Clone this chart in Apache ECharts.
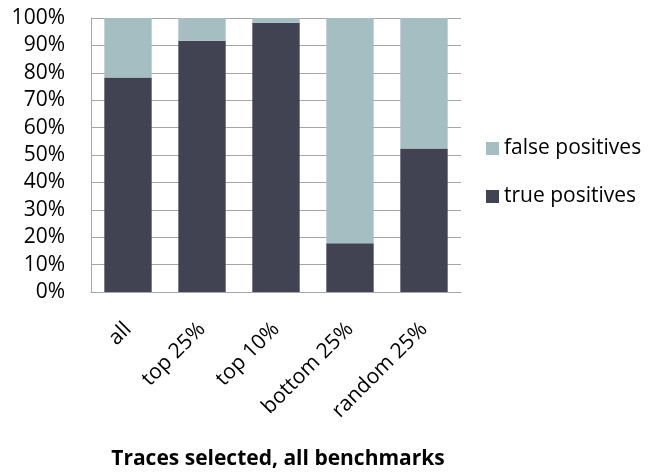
<!DOCTYPE html>
<html><head><meta charset="utf-8">
<script src="https://cdn.jsdelivr.net/npm/echarts@6/dist/echarts.min.js"></script>
<style>html,body{margin:0;padding:0;background:#fff}#c{width:649px;height:476px}</style>
</head><body><div id="c"></div>
<script>
const categories = ['all', 'top 25%', 'top 10%', 'bottom 25%', 'random 25%'];
const truePositives = [78.3, 91.7, 98.3, 17.8, 52.4];
const falsePositives = [21.7, 8.3, 1.7, 82.2, 47.6];
const yTicks = [0, 10, 20, 30, 40, 50, 60, 70, 80, 90, 100];
const xTitle = 'Traces selected, all benchmarks';

const FONT = "'Open Sans', 'DejaVu Sans', sans-serif";
const chart = echarts.init(document.getElementById('c'), null, {renderer: 'canvas'});
chart.setOption({
  animation: false,
  backgroundColor: '#ffffff',
  grid: {left: 91, right: 188, top: 18, bottom: 184, containLabel: false},
  title: {
    text: xTitle, left: 273, textAlign: 'center', top: 444,
    textStyle: {fontFamily: FONT, fontSize: 21, fontWeight: 'bold', color: '#000'}
  },
  legend: {
    orient: 'vertical', left: 481, top: 133,
    itemWidth: 13, itemHeight: 13, itemGap: 27, icon: 'rect',
    data: ['false positives', 'true positives'],
    textStyle: {fontFamily: FONT, fontSize: 21, color: '#000', padding: [0,0,0,0]}
  },
  xAxis: {
    type: 'category', data: categories,
    axisLine: {lineStyle: {color: '#a6a6a6', width: 1}},
    axisTick: {show: false},
    axisLabel: {rotate: 45, margin: 34, fontFamily: FONT, fontSize: 21, color: '#000', interval: 0}
  },
  yAxis: {
    type: 'value', min: 0, max: 100, interval: 10,
    axisLine: {show: true, lineStyle: {color: '#a6a6a6', width: 1}},
    axisTick: {show: false},
    splitLine: {lineStyle: {color: '#a6a6a6', width: 1}},
    axisLabel: {formatter: v => yTicks.includes(v) ? v + '%' : '', margin: 26, fontFamily: FONT, fontSize: 21, color: '#000'}
  },
  series: [
    {name: 'true positives', type: 'bar', stack: 's', data: truePositives, barWidth: '64%',
     itemStyle: {color: '#414252'}},
    {name: 'false positives', type: 'bar', stack: 's', data: falsePositives, barWidth: '64%',
     itemStyle: {color: '#a5bec2'}}
  ]
});
</script></body></html>
